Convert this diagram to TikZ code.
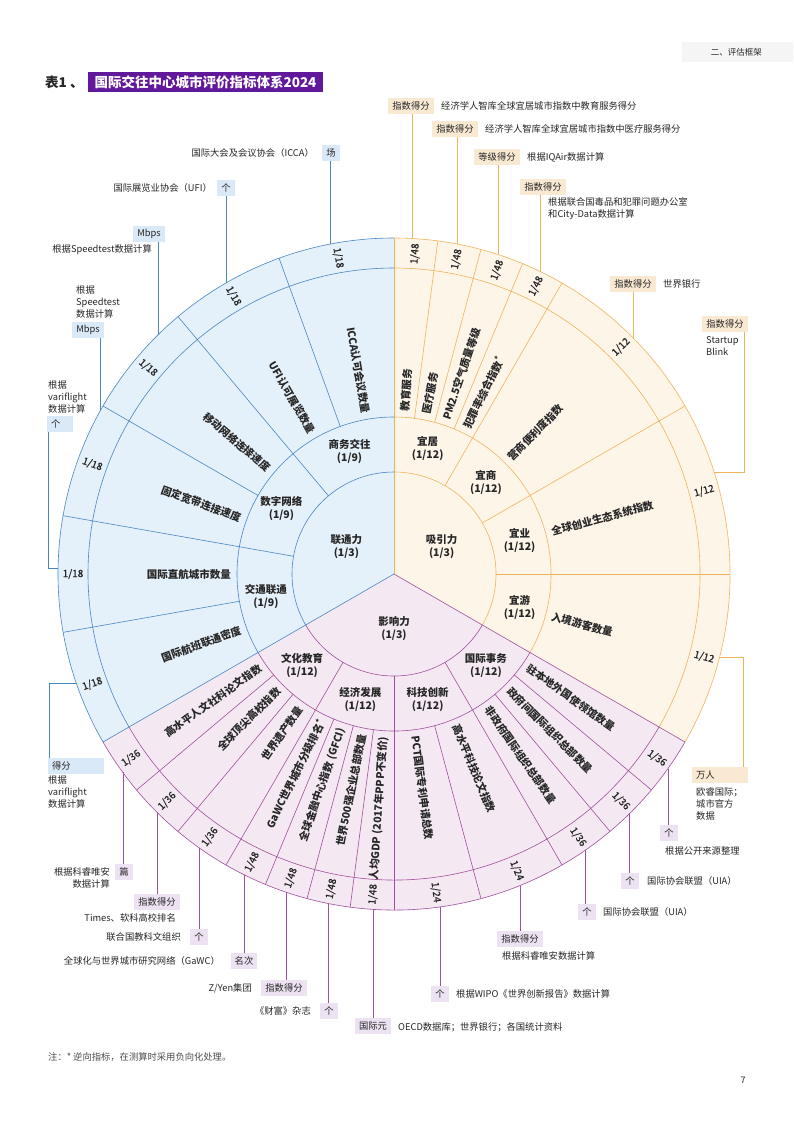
\documentclass[tikz,border=0pt]{standalone}
\usepackage{fontspec}
\setmainfont{Noto Sans CJK SC}
\usetikzlibrary{calc}

\definecolor{lnkfill}{HTML}{E4F0FA}
\definecolor{lnkline}{HTML}{4A87C2}
\definecolor{lnkbox}{HTML}{DAE9F7}
\definecolor{attfill}{HTML}{FEF5E9}
\definecolor{attline}{HTML}{F0B35C}
\definecolor{attbox}{HTML}{F9E9D3}
\definecolor{inffill}{HTML}{F4E9F3}
\definecolor{infline}{HTML}{A04F9B}
\definecolor{infbox}{HTML}{EDE2F1}
\definecolor{ttlpurple}{HTML}{62189A}
\definecolor{txt}{HTML}{262626}

\begin{document}
\begin{tikzpicture}[
    x=1pt, y=-1pt,
    every node/.style={inner sep=0pt, text=txt},
    lnk/.style={draw=lnkline, line width=0.6pt},
    att/.style={draw=attline, line width=0.6pt},
    inf/.style={draw=infline, line width=0.6pt},
    core/.style={font=\fontsize{10.5}{13}\selectfont\bfseries, align=center},
    indr/.style={font=\fontsize{10.5}{12}\selectfont\bfseries, anchor=west},
    indl/.style={font=\fontsize{10.5}{12}\selectfont\bfseries, anchor=east},
    wt/.style={font=\fontsize{10}{12}\selectfont\addfontfeatures{FakeBold=0.6}},
    unit/.style={font=\fontsize{9.3}{11}\selectfont, inner xsep=4pt, inner ysep=3.5pt},
    unitw/.style={unit, text width=#1, align=left},
    src/.style={font=\fontsize{9.3}{12}\selectfont}
  ]
  \useasboundingbox (0,0) rectangle (793,1122);
  \fill[white] (0,0) rectangle (793,1122);

  % header and title
  \fill[black!4] (682,42) rectangle (793,62);
  \node[font=\fontsize{8.5}{10}\selectfont, anchor=east] (hdr) at (762,52) {二、评估框架};
  \node[font=\fontsize{13.5}{15}\selectfont\bfseries, anchor=west] (tnum) at (45,82) {表1 、};
  \node[fill=ttlpurple, text=white, font=\fontsize{13.5}{15}\selectfont\bfseries,
    minimum width=235pt, minimum height=20pt] (ttl) at (205.5,82) {国际交往中心城市评价指标体系2024};

  % the wheel
  \begin{scope}[shift={(394pt,-574pt)}, y=1pt]
    \fill[lnkfill] (0,0) -- (90:336) arc[start angle=90, end angle=210, radius=336] -- cycle;
    \fill[attfill] (0,0) -- (-30:336) arc[start angle=-30, end angle=90, radius=336] -- cycle;
    \fill[inffill] (0,0) -- (210:336) arc[start angle=210, end angle=330, radius=336] -- cycle;
    \foreach \r in {102,157,306,336} {
      \draw[lnk] (90:\r) arc[start angle=90, end angle=210, radius=\r];
      \draw[att] (-30:\r) arc[start angle=-30, end angle=90, radius=\r];
      \draw[inf] (210:\r) arc[start angle=210, end angle=330, radius=\r];
    }
    % spokes
    \foreach \a in {130,170} \draw[lnk] (\a:102) -- (\a:336);
    \foreach \a in {110,150,190} \draw[lnk] (\a:157) -- (\a:336);
    \foreach \a in {60,30,0} \draw[att] (\a:102) -- (\a:336);
    \foreach \a in {82.5,75,67.5} \draw[att] (\a:157) -- (\a:336);
    \foreach \a in {240,270,300} \draw[inf] (\a:102) -- (\a:336);
    \foreach \a in {220,230,247.5,255,262.5,285,310,320} \draw[inf] (\a:157) -- (\a:336);
    \draw[att] (0,0) -- (90:336);
    \draw[lnk] (0,0) -- (210:336);
    \draw[inf] (0,0) -- (330:336);

    % core
    \node[core] (lnkc) at (150:55) {联通力\\(1/3)};
    \node[core] (attc) at (30:55) {吸引力\\(1/3)};
    \node[core] (infc) at (270:55) {影响力\\(1/3)};

    % dimensions
    \node[core] (biz) at (110:130) {商务交往\\(1/9)};
    \node[core] (dig) at (150:130) {数字网络\\(1/9)};
    \node[core] (trn) at (190:130) {交通联通\\(1/9)};
    \node[core] (liv) at (75:130) {宜居\\(1/12)};
    \node[core] (bus) at (45:130) {宜商\\(1/12)};
    \node[core] (job) at (15:130) {宜业\\(1/12)};
    \node[core] (tour) at (-15:130) {宜游\\(1/12)};
    \node[core] (cul) at (225:130) {文化教育\\(1/12)};
    \node[core] (eco) at (255:130) {经济发展\\(1/12)};
    \node[core] (tec) at (285:130) {科技创新\\(1/12)};
    \node[core] (ia) at (315:130) {国际事务\\(1/12)};

    % indicators
    \foreach \a/\t [count=\i] in {100/{ICCA认可会议数量}, 120/{UFI认可展览数量},
        140/{移动网络连接速度}, 160/{固定宽带连接速度}, 180/{国际直航城市数量},
        200/{国际航班联通密度}, 215/{高水平人文社科论文指数}, 225/{全球顶尖高校指数},
        235/{世界遗产数量}, 243.75/{GaWC世界城市分级排名\textsuperscript{*}},
        251.25/{全球金融中心指数 (GFCI)}, 258.75/{世界500强企业总部数量},
        266.25/{人均GDP (2017年PPP不变价)}}
      \node[indl, rotate=\a-180] (il\i) at (\a:163) {\t};
    \foreach \a/\t [count=\i] in {86.25/{教育服务}, 78.75/{医疗服务},
        71.25/{PM2.5空气质量等级}, 63.75/{犯罪率综合指数\textsuperscript{*}},
        45/{营商便利度指数}, 15/{全球创业生态系统指数}, -15/{入境游客数量},
        277.5/{PCT国际专利申请总数}, 292.5/{高水平科技论文指数},
        305/{非政府国际组织总部数量}, 315/{政府间国际组织总部数量},
        325/{驻本地外国使领馆数量}}
      \node[indr, rotate=\a] (ir\i) at (\a:163) {\t};

    % weights
    \foreach \a/\w [count=\i] in {100/{1/18}, 120/{1/18}, 140/{1/18}, 160/{1/18},
        180/{1/18}, 200/{1/18}, 215/{1/36}, 225/{1/36}, 235/{1/36}, 243.75/{1/48},
        251.25/{1/48}, 258.75/{1/48}, 266.25/{1/48}}
      \node[wt, rotate=\a-180] (wl\i) at (\a:321) {\w};
    \foreach \a/\w [count=\i] in {86.25/{1/48}, 78.75/{1/48}, 71.25/{1/48},
        63.75/{1/48}, 45/{1/12}, 15/{1/12}, -15/{1/12}, 277.5/{1/24}, 292.5/{1/24},
        305/{1/36}, 315/{1/36}, 325/{1/36}}
      \node[wt, rotate=\a] (wr\i) at (\a:321) {\w};

    % callout feet on the rim
    \foreach \a [count=\i] in {101,120,134.6,151,179,199,216.2,225.1,234.5,243.5,
        251.3,258.8,266.4,277.9,292,304.8,314.4,324.6,-14.3,17.7,44.6,64.1,72,79.2,86.8}
      \coordinate (c\i) at (\a:336);
  \end{scope}

  % callouts: connectivity
  \node[unit, fill=lnkbox] (u1) at (331,153) {场};
  \node[src, anchor=east] (s1) at (314,153) {国际大会及会议协会（ICCA）};
  \node[unit, fill=lnkbox] (u2) at (226,188) {个};
  \node[src, anchor=east] (s2) at (212,188) {国际展览业协会（UFI）};
  \node[unit, fill=lnkbox] (u3) at (149,234) {Mbps};
  \node[src, anchor=east] (s3) at (152,250) {根据Speedtest数据计算};
  \node[unit, fill=lnkbox] (u4) at (88,330) {Mbps};
  \node[src, anchor=west, align=left] (s4) at (76,302) {根据\\Speedtest\\数据计算};
  \node[unitw=18pt, fill=lnkbox] (u5) at (60,424) {个};
  \node[src, anchor=west, align=left] (s5) at (48,397) {根据\\variflight\\数据计算};
  \node[unitw=48pt, fill=lnkbox] (u6) at (76,766) {得分};
  \node[src, anchor=west, align=left] (s6) at (48,792) {根据\\variflight\\数据计算};
  \foreach \i in {1,2,3,4} \draw[lnk] (c\i) -- (c\i |- u\i.south);
  \draw[lnk] (c5) -| ([xshift=1pt]u5.south west);
  \draw[lnk] (c6) -| ([xshift=1pt]u6.north west);

  % callouts: influence
  \node[unit, fill=infbox] (u7) at (124,872) {篇};
  \node[src, anchor=east, align=right] (s7) at (110,878) {根据科睿唯安\\数据计算};
  \node[unit, fill=infbox] (u8) at (157,902) {指数得分};
  \node[src, anchor=east] (s8) at (176,918) {Times、软科高校排名};
  \node[unit, fill=infbox] (u9) at (199,937) {个};
  \node[src, anchor=east] (s9) at (181,937) {联合国教科文组织};
  \node[unit, fill=infbox] (u10) at (244,961) {名次};
  \node[src, anchor=east] (s10) at (220,961) {全球化与世界城市研究网络（GaWC）};
  \node[unit, fill=infbox] (u11) at (284,988) {指数得分};
  \node[src, anchor=east] (s11) at (252,988) {Z/Yen集团};
  \node[unit, fill=infbox] (u12) at (329,1011) {个};
  \node[src, anchor=east] (s12) at (311,1011) {《财富》杂志};
  \node[unit, fill=infbox] (u13) at (373,1026) {国际元};
  \node[src, anchor=west] (s13) at (398,1027) {OECD数据库；世界银行；各国统计资料};
  \node[unit, fill=infbox] (u14) at (440,994) {个};
  \node[src, anchor=west] (s14) at (456,994) {根据WIPO《世界创新报告》数据计算};
  \node[unit, fill=infbox] (u15) at (520,939) {指数得分};
  \node[src, anchor=west] (s15) at (502,956) {根据科睿唯安数据计算};
  \node[unit, fill=infbox] (u16) at (587,912) {个};
  \node[src, anchor=west] (s16) at (603,912) {国际协会联盟（UIA）};
  \node[unit, fill=infbox] (u17) at (630,881) {个};
  \node[src, anchor=west] (s17) at (647,881) {国际协会联盟（UIA）};
  \node[unit, fill=infbox] (u18) at (669,833) {个};
  \node[src, anchor=west] (s18) at (665,851) {根据公开来源整理};
  \foreach \i in {7,...,18} \draw[inf] (c\i) -- (c\i |- u\i.north);

  % callouts: attraction
  \node[unitw=48pt, fill=attbox] (u19) at (720,775) {万人};
  \node[src, anchor=west, align=left] (s19) at (696,804) {欧睿国际；\\城市官方\\数据};
  \node[unit, fill=attbox] (u20) at (725,324) {指数得分};
  \node[src, anchor=west, align=left] (s20) at (706,346) {Startup\\Blink};
  \node[unit, fill=attbox] (u21) at (633,284) {指数得分};
  \node[src, anchor=west] (s21) at (663,284) {世界银行};
  \node[unit, fill=attbox] (u22) at (543,187) {指数得分};
  \node[src, anchor=west, align=left] (s22) at (548,209) {根据联合国毒品和犯罪问题办公室\\和City-Data数据计算};
  \node[unit, fill=attbox] (u23) at (497,157) {等级得分};
  \node[src, anchor=west] (s23) at (527,157) {根据IQAir数据计算};
  \node[unit, fill=attbox] (u24) at (455,129) {指数得分};
  \node[src, anchor=west] (s24) at (485,129) {经济学人智库全球宜居城市指数中医疗服务得分};
  \node[unit, fill=attbox] (u25) at (411,106) {指数得分};
  \node[src, anchor=west] (s25) at (441,106) {经济学人智库全球宜居城市指数中教育服务得分};
  \draw[att] (c19) -| ([xshift=-5pt]u19.north east);
  \draw[att] (c20) -| ([xshift=-4pt]u20.south east);
  \foreach \i in {21,...,25} \draw[att] (c\i) -- (c\i |- u\i.south);

  % footer
  \node[src, anchor=west, text=black!70] (note) at (48,1057) {注：* 逆向指标，在测算时采用负向化处理。};
  \node[font=\fontsize{9}{11}\selectfont] (pg) at (743,1080) {7};
\end{tikzpicture}
\end{document}
